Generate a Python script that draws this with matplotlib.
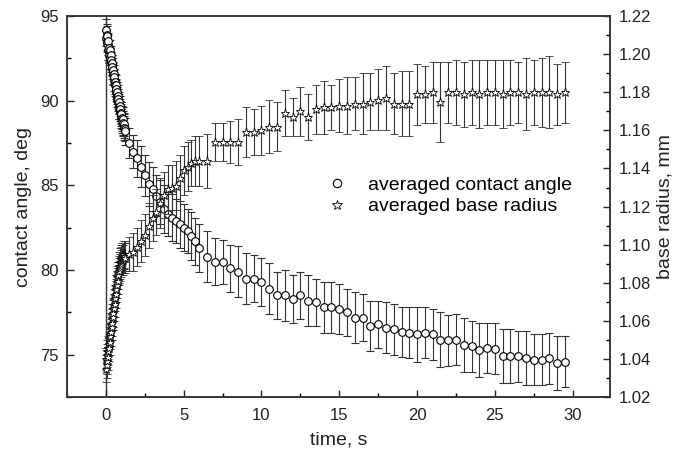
import numpy as np
import matplotlib.pyplot as plt
from matplotlib.ticker import MultipleLocator
from matplotlib.lines import Line2D

plt.rcParams['font.family'] = ['Liberation Sans', 'DejaVu Sans']

# time, s (dense at the start, then 0.25 s, then 0.5 s)
t = [0.00, 0.02, 0.04, 0.06, 0.08, 0.10, 0.12, 0.14, 0.16, 0.18,
     0.20, 0.22, 0.24, 0.26, 0.28, 0.30, 0.32, 0.34, 0.36, 0.38,
     0.40, 0.42, 0.44, 0.46, 0.48, 0.50, 0.52, 0.54, 0.56, 0.58,
     0.60, 0.62, 0.64, 0.66, 0.68, 0.70, 0.72, 0.74, 0.76, 0.78,
     0.80, 0.82, 0.84, 0.86, 0.88, 0.90, 0.92, 0.94, 0.96, 0.98,
     1.00, 1.02, 1.04, 1.06, 1.08, 1.10, 1.12, 1.14, 1.16, 1.18, 1.20,
     1.25, 1.50, 1.75, 2.00, 2.25, 2.50, 2.75, 3.00, 3.25, 3.50, 3.75,
     4.00, 4.25, 4.50, 4.75, 5.00, 5.25, 5.50, 5.75,
     6.0, 6.5, 7.0, 7.5, 8.0, 8.5, 9.0, 9.5, 10.0, 10.5, 11.0, 11.5,
     12.0, 12.5, 13.0, 13.5, 14.0, 14.5, 15.0, 15.5, 16.0, 16.5, 17.0,
     17.5, 18.0, 18.5, 19.0, 19.5, 20.0, 20.5, 21.0, 21.5, 22.0, 22.5,
     23.0, 23.5, 24.0, 24.5, 25.0, 25.5, 26.0, 26.5, 27.0, 27.5, 28.0,
     28.5, 29.0, 29.5]

# averaged contact angle, deg
angle = [94.2, 93.7, 93.9, 93.5, 93.8, 93.4, 93.3, 93.5, 93.0, 93.1,
         92.9, 92.7, 93.0, 92.6, 92.5, 92.7, 92.3, 92.4, 92.1, 92.2,
         91.9, 92.0, 91.6, 91.8, 91.5, 91.6, 91.2, 91.4, 91.0, 91.1,
         90.9, 90.7, 90.9, 90.5, 90.7, 90.3, 90.5, 90.1, 90.3, 89.9,
         90.1, 89.8, 89.9, 89.5, 89.7, 89.4, 89.5, 89.2, 89.3, 89.0,
         89.2, 88.9, 89.0, 88.8, 88.9, 88.6, 88.7, 88.5, 88.6, 88.4, 88.3,
         88.2, 87.5, 87.0, 86.6, 86.1, 85.6, 85.1, 84.8, 84.4, 84.0, 83.6,
         83.3, 83.1, 82.9, 82.7, 82.5, 82.3, 82.0, 81.7,
         81.3, 80.8, 80.5, 80.5, 80.1, 79.9, 79.5, 79.5, 79.3, 78.9, 78.5,
         78.5, 78.3, 78.5, 78.2, 78.1, 77.8, 77.8, 77.7, 77.5, 77.2, 77.2,
         76.7, 76.8, 76.6, 76.5, 76.35, 76.3, 76.2, 76.3, 76.2, 75.9, 75.85,
         75.9, 75.6, 75.5, 75.3, 75.4, 75.35, 74.95, 74.95, 74.9, 74.8, 74.7,
         74.7, 74.8, 74.5, 74.6]
angle_err = [0.6, 0.5, 0.6, 0.5, 0.6, 0.5, 0.6, 0.5, 0.6, 0.5,
             0.6, 0.5, 0.6, 0.5, 0.6, 0.5, 0.6, 0.5, 0.6, 0.5,
             0.6, 0.5, 0.6, 0.5, 0.6, 0.5, 0.6, 0.5, 0.6, 0.5,
             0.6, 0.5, 0.6, 0.5, 0.6, 0.5, 0.6, 0.5, 0.6, 0.5,
             0.6, 0.6, 0.6, 0.6, 0.6, 0.6, 0.6, 0.6, 0.6, 0.6,
             0.7, 0.7, 0.7, 0.7, 0.7, 0.7, 0.7, 0.7, 0.7, 0.7, 0.7,
             0.8, 0.9, 1.0, 1.1, 1.2, 1.2, 1.3, 1.3, 1.2, 1.3, 1.4,
             1.3, 1.4, 1.3, 1.4, 1.4, 1.3, 1.4, 1.4,
             1.4, 1.5, 1.4, 1.3, 1.4, 1.5, 1.5, 1.4, 1.4, 1.5, 1.4,
             1.5, 1.4, 1.4, 1.5, 1.4, 1.5, 1.5, 1.5, 1.4, 1.5, 1.4,
             1.5, 1.4, 1.5, 1.5, 1.5, 1.5, 1.6, 1.5, 1.5, 1.6, 1.5,
             1.5, 1.6, 1.5, 1.6, 1.5, 1.5, 1.6, 1.6, 1.5, 1.6, 1.5,
             1.5, 1.5, 1.6, 1.5]

# averaged base radius, mm
radius = [1.035, 1.040, 1.037, 1.042, 1.039, 1.044, 1.041, 1.046, 1.044, 1.048,
          1.046, 1.051, 1.049, 1.053, 1.052, 1.056, 1.054, 1.058, 1.057, 1.061,
          1.059, 1.063, 1.062, 1.066, 1.064, 1.068, 1.067, 1.071, 1.069, 1.073,
          1.072, 1.076, 1.074, 1.078, 1.077, 1.080, 1.079, 1.083, 1.081, 1.085,
          1.084, 1.087, 1.086, 1.089, 1.088, 1.091, 1.089, 1.092, 1.090, 1.093,
          1.091, 1.093, 1.092, 1.094, 1.092, 1.094, 1.093, 1.095, 1.093, 1.094,
          1.094,
          1.093, 1.095, 1.096, 1.099, 1.102, 1.105, 1.110, 1.114, 1.117,
          1.122, 1.126, 1.129, 1.130, 1.131, 1.135, 1.139, 1.141, 1.143,
          1.144,
          1.144, 1.144, 1.154, 1.154, 1.154, 1.154, 1.159, 1.159, 1.160,
          1.162, 1.162, 1.169, 1.167, 1.170, 1.167, 1.171, 1.172, 1.172,
          1.173, 1.173, 1.174, 1.174, 1.175, 1.176, 1.177, 1.174, 1.174,
          1.174, 1.179, 1.179, 1.180, 1.175, 1.180, 1.180, 1.179, 1.180,
          1.179, 1.180, 1.180, 1.179, 1.180, 1.180, 1.179, 1.180, 1.180,
          1.180, 1.179, 1.180]
radius_err = [0.007, 0.006, 0.007, 0.006, 0.007, 0.006, 0.007, 0.006, 0.007, 0.006,
              0.007, 0.006, 0.007, 0.006, 0.007, 0.006, 0.007, 0.006, 0.007, 0.006,
              0.007, 0.006, 0.007, 0.006, 0.007, 0.006, 0.007, 0.006, 0.007, 0.006,
              0.007, 0.006, 0.007, 0.006, 0.007, 0.006, 0.007, 0.006, 0.007, 0.006,
              0.007, 0.007, 0.007, 0.007, 0.007, 0.007, 0.007, 0.007, 0.007, 0.007,
              0.007, 0.007, 0.008, 0.007, 0.008, 0.007, 0.008, 0.007, 0.008, 0.007,
              0.008,
              0.008, 0.009, 0.010, 0.010, 0.011, 0.011, 0.012, 0.012, 0.012,
              0.013, 0.012, 0.013, 0.012, 0.013, 0.012, 0.013, 0.013, 0.012,
              0.013,
              0.013, 0.014, 0.010, 0.010, 0.011, 0.012, 0.013, 0.012, 0.013,
              0.014, 0.013, 0.012, 0.010, 0.013, 0.012, 0.013, 0.014, 0.012,
              0.014, 0.015, 0.014, 0.016, 0.015, 0.016, 0.017, 0.016, 0.017,
              0.017, 0.016, 0.015, 0.016, 0.021, 0.016, 0.017, 0.017, 0.017,
              0.018, 0.017, 0.017, 0.018, 0.017, 0.016, 0.019, 0.017, 0.018,
              0.019, 0.016, 0.016]

fig = plt.figure(figsize=(6.77, 4.57), dpi=100)
ax = fig.add_axes([0.099, 0.131, 0.802, 0.834])
ax2 = ax.twinx()

ax.axvline(0, color='#333333', lw=1.0, zorder=1)

ax.errorbar(t, angle, yerr=angle_err, fmt='o', ms=5.5, mfc='white',
            mec='black', mew=0.8, ecolor='#333333', elinewidth=0.8,
            capsize=3, capthick=0.8, zorder=3)
ax2.errorbar(t, radius, yerr=radius_err, fmt='*', ms=6.5, mfc='white',
             mec='black', mew=0.6, ecolor='#333333', elinewidth=0.8,
             capsize=3, capthick=0.8, zorder=3)

ax.set_xlim(-2.5, 32.4)
ax.set_ylim(72.5, 95)
ax2.set_ylim(1.02, 1.22)

ax.xaxis.set_major_locator(MultipleLocator(5))
ax.xaxis.set_minor_locator(MultipleLocator(2.5))
ax.yaxis.set_major_locator(MultipleLocator(5))
ax.yaxis.set_minor_locator(MultipleLocator(2.5))
ax2.yaxis.set_major_locator(MultipleLocator(0.02))
ax2.yaxis.set_minor_locator(MultipleLocator(0.01))
ax2.yaxis.set_major_formatter(plt.FormatStrFormatter('%.2f'))

for a in (ax, ax2):
    a.tick_params(which='major', direction='in', length=5, width=1,
                  labelsize=12, colors='#222222')
    a.tick_params(which='minor', direction='in', length=3, width=1)
    for s in a.spines.values():
        s.set_linewidth(1.1)
        s.set_color('#333333')
ax.tick_params(axis='x', pad=8)
ax.tick_params(axis='y', pad=6)
ax2.tick_params(axis='y', pad=6)

ax.set_xlabel('time, s', fontsize=14, color='#222222', labelpad=6)
ax.set_ylabel('contact angle, deg', fontsize=14, color='#222222', labelpad=6)
ax2.set_ylabel('base radius, mm', fontsize=14, color='#222222', labelpad=4)

handles = [Line2D([], [], ls='none', marker='o', ms=6, mfc='white',
                  mec='black', mew=0.8),
           Line2D([], [], ls='none', marker='*', ms=7, mfc='white',
                  mec='black', mew=0.6)]
ax2.legend(handles, ['averaged contact angle', 'averaged base radius'],
           loc='center left', bbox_to_anchor=(0.443, 0.528), frameon=False,
           fontsize=14, handlelength=1.2, handletextpad=1.0,
           labelspacing=0.2)

fig.savefig('out.png', dpi=100)
